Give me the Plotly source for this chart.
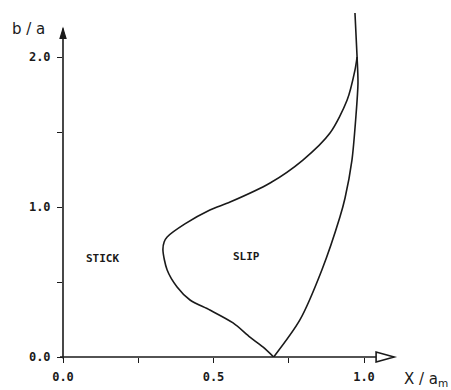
import plotly.graph_objects as go

# --- data ---
stick_slip_x = [0.700, 0.664, 0.621, 0.565, 0.488, 0.422, 0.379, 0.346, 0.332, 0.336,
                0.346, 0.405, 0.488, 0.555, 0.688, 0.797, 0.887, 0.944, 0.970, 0.977]
stick_slip_y = [0.000, 0.067, 0.133, 0.227, 0.313, 0.380, 0.467, 0.580, 0.713, 0.767,
                0.800, 0.887, 0.980, 1.033, 1.160, 1.313, 1.493, 1.713, 1.913, 2.000]

slip_edge_x = [0.700, 0.787, 0.860, 0.920, 0.937, 0.960, 0.973, 0.980, 0.977, 0.970]
slip_edge_y = [0.000, 0.247, 0.580, 0.933, 1.060, 1.313, 1.600, 1.827, 2.000, 2.293]

x_major = [0.0, 0.5, 1.0]
x_major_text = ["0.0", "0.5", "1.0"]
x_minor = [0.25, 0.75]
y_major = [0.0, 1.0, 2.0]
y_major_text = ["0.0", "1.0", "2.0"]
y_minor = [0.5, 1.5]

region_labels = ["STICK", "SLIP"]
region_x = [0.13, 0.611]
region_y = [0.66, 0.667]

X_AXIS_END = 1.10
Y_AXIS_END = 2.19

INK = "#1a1a1a"
W, H = 451, 390
ML, MB = 63, 33
XMAX = (W - ML) / 301.0
YMAX = (H - MB) / 150.0


def px(v):
    return v / XMAX


def py(v):
    return v / YMAX


fig = go.Figure()
for xs, ys in [(stick_slip_x, stick_slip_y), (slip_edge_x, slip_edge_y)]:
    fig.add_trace(go.Scatter(x=xs, y=ys, mode="lines",
                             line=dict(color=INK, width=1.6, shape="spline", smoothing=0.8),
                             showlegend=False, hoverinfo="skip"))

# axis lines (paper refs so they are not clipped)
fig.add_shape(type="line", xref="paper", yref="paper", x0=px(-0.01), y0=0, x1=px(X_AXIS_END), y1=0,
              line=dict(color=INK, width=1.6))
fig.add_shape(type="line", xref="paper", yref="paper", x0=0, y0=py(-0.01), x1=0, y1=py(Y_AXIS_END),
              line=dict(color=INK, width=1.6))
# arrow heads
fig.add_shape(type="path", xref="paper", yref="paper", xsizemode="pixel", ysizemode="pixel",
              xanchor=px(X_AXIS_END), yanchor=0,
              path="M -18,-5 L 0,0 L -18,5 Z", line=dict(color=INK, width=1.6),
              fillcolor="white")
fig.add_shape(type="path", xref="paper", yref="paper", xsizemode="pixel", ysizemode="pixel",
              xanchor=0, yanchor=py(Y_AXIS_END),
              path="M -3,-10 L 0,0 L 3,-10 Z", line=dict(color=INK, width=1.2),
              fillcolor=INK)

for t, x, y in zip(region_labels, region_x, region_y):
    fig.add_annotation(x=x, y=y, text=t, showarrow=False,
                       font=dict(family="DejaVu Sans Mono", size=11, color=INK, weight="bold"))

fig.add_annotation(xref="paper", yref="paper", x=(28 - ML) / (W - ML), y=(H - MB - 29) / (H - MB),
                   xanchor="center", yanchor="middle",
                   text="b / a", showarrow=False,
                   font=dict(family="DejaVu Sans", size=15, color=INK))
fig.add_annotation(xref="paper", yref="paper", x=(426 - ML) / (W - ML), y=(H - MB - 379) / (H - MB),
                   xanchor="center", yanchor="middle",
                   text="X / a<sub>m</sub>", showarrow=False,
                   font=dict(family="DejaVu Sans", size=15, color=INK))

tickfont = dict(family="DejaVu Sans Mono", size=12, color=INK, weight="bold")
fig.update_layout(
    width=W, height=H,
    margin=dict(l=ML, r=0, t=0, b=MB, pad=0),
    plot_bgcolor="white", paper_bgcolor="white",
    xaxis=dict(range=[0, XMAX], tickvals=x_major, ticktext=x_major_text,
               ticks="outside", ticklen=5, tickwidth=1.4, tickcolor=INK,
               minor=dict(tickvals=x_minor, ticks="outside", ticklen=5, tickwidth=1.4, tickcolor=INK),
               showgrid=False, zeroline=False, showline=False, tickfont=tickfont,
               ticklabelstandoff=4),
    yaxis=dict(range=[0, YMAX], tickvals=y_major, ticktext=y_major_text,
               ticks="outside", ticklen=5, tickwidth=1.4, tickcolor=INK,
               minor=dict(tickvals=y_minor, ticks="outside", ticklen=5, tickwidth=1.4, tickcolor=INK),
               showgrid=False, zeroline=False, showline=False, tickfont=tickfont,
               ticklabelstandoff=4),
)
fig.write_html("out.html")
